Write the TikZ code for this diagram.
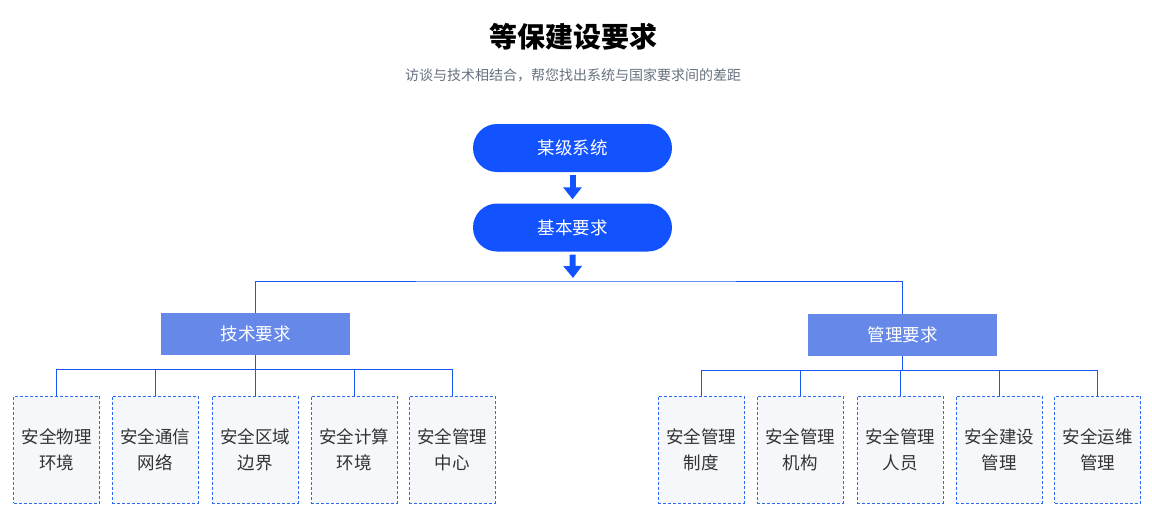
\documentclass[tikz,border=0pt]{standalone}
\usepackage{fontspec}
\setmainfont{Noto Sans CJK SC}
\usepackage{tikz}
\usetikzlibrary{arrows.meta}
\definecolor{pillblue}{HTML}{1352FF}
\definecolor{midblue}{HTML}{6689E9}
\definecolor{lineblue}{HTML}{1A56F0}
\definecolor{dashblue}{HTML}{2E6BF5}
\definecolor{leafgray}{HTML}{F5F7FA}
\definecolor{subgray}{HTML}{66707F}
\tikzset{
	% Three node styles: pill, group box and dashed leaf box
	pill node/.style={rectangle,rounded corners=24pt,fill=pillblue,text=white,minimum width=199pt,minimum height=48pt,inner sep=0,font=\fontsize{17.5}{20}\selectfont},
	group node/.style={rectangle,fill=midblue,text=white,minimum width=189pt,minimum height=42pt,inner sep=0,font=\fontsize{17.5}{20}\selectfont},
	leaf node/.style={rectangle,draw=dashblue,fill=leafgray,line width=1pt,dash pattern=on 3pt off 2pt,minimum width=86pt,minimum height=107pt,inner sep=0,align=center,text=black!80,font=\fontsize{17.5}{26}\selectfont},
	link/.style={draw=lineblue,line width=1pt},
	fat arrow/.style={draw=pillblue,line width=6pt,-{Triangle[width=18pt,length=12pt]}}
}
\begin{document}
\begin{tikzpicture}[x=1pt,y=-1pt]
	\useasboundingbox (0,0) rectangle (1152,523);
	% heading
	\node(title) at (573,37) {\fontsize{28}{30}\selectfont\bfseries 等保建设要求};
	\node(sub)[text=subgray] at (573,75) {\fontsize{14}{16}\selectfont 访谈与技术相结合，帮您找出系统与国家要求间的差距};
	
	% top of the tree
	\node(0)[pill node] at (572.5,148) {某级系统};
	\node(1)[pill node] at (572.5,227.5) {基本要求};
	\node(1-1)[group node] at (255.5,334) {技术要求};
	\node(1-2)[group node] at (902.5,335) {管理要求};
	\coordinate(bus) at (573,281);
	
	% leaves of each group
	\foreach \i/\x/\txt in {1/56.5/安全物理\\环境,2/155/安全通信\\网络,3/255/安全区域\\边界,4/354/安全计算\\环境,5/452/安全管理\\中心}
		\node(1-1-\i)[leaf node] at (\x,449.5) {\txt};
	\foreach \i/\x/\txt in {1/701/安全管理\\制度,2/800/安全管理\\机构,3/900/安全管理\\人员,4/999/安全建设\\管理,5/1097.5/安全运维\\管理}
		\node(1-2-\i)[leaf node] at (\x,449.5) {\txt};
	
	% connectors
	\draw[fat arrow] ([yshift=-3pt]0.south) -- ([yshift=4pt]1.north);
	\draw[fat arrow] ([yshift=-3pt]1.south) -- ([yshift=3pt]bus);
	\draw[link] (1-1.north) |- (bus) -| (1-2.north);
	\foreach \g in {1,2}
		\foreach \i in {1,...,5}
			\draw[link] (1-\g.south) -- ++(0,-14pt) -| (1-\g-\i.north);
\end{tikzpicture}
\end{document}
